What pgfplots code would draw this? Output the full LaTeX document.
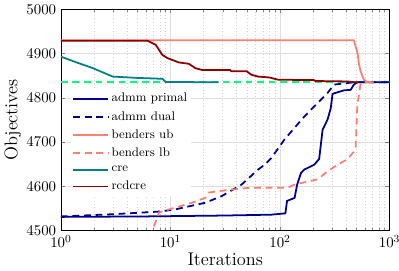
\documentclass[border=0pt]{standalone}
\usepackage{pgfplots}
\pgfplotsset{compat=1.18}
\definecolor{navyc}{RGB}{0,0,139}
\definecolor{salmonc}{RGB}{250,128,114}
\definecolor{tealc}{RGB}{0,128,128}
\definecolor{redc}{RGB}{139,0,0}
\definecolor{greenc}{RGB}{0,255,127}
\begin{document}
\begin{tikzpicture}
\begin{semilogxaxis}[
  name=ax,
  scale only axis,
  width=242pt, height=163pt,
  xmin=1, xmax=1000, ymin=4500, ymax=5000,
  ytick={4500,4600,4700,4800,4900,5000},
  xtick={1,10,100,1000},
  tick align=inside,
  major tick length=3pt, minor tick length=1.8pt,
  grid=both,
  major grid style={gray!25, line width=0.4pt},
  minor grid style={gray!35, dotted, line width=0.4pt},
  tick label style={font=\fontsize{11.3}{13}\selectfont},
  xlabel={Iterations},
  ylabel={Objectives},
  label style={font=\fontsize{13.5}{15}\selectfont},
  ylabel style={yshift=-3pt},
  xlabel style={yshift=3pt},
  legend style={at={(0.03,0.64)}, anchor=north west, draw=none, fill=white, font=\fontsize{9.2}{10.5}\selectfont, row sep=1.5pt, inner sep=1pt},
  legend cell align=left,
  legend image code/.code={\draw[line width=1.3pt,#1] (0cm,0cm) -- (0.9cm,0cm);},
  y tick label style={/pgf/number format/1000 sep={}},
]
\addplot[line width=1.3pt, greenc, dash pattern=on 5pt off 3.5pt, forget plot] coordinates {(1,4835) (1000,4835)};
\addplot[line width=1.3pt, navyc] coordinates {(1,4531) (5.56,4532) (30,4534) (83,4536) (112,4539) (116,4567) (136,4574) (143.5,4604) (156,4631) (167,4638) (206,4649) (228,4662) (245,4728) (272,4751) (291,4777) (302,4809) (384,4817) (442,4818) (473,4830) (508,4835) (1000,4835)};
\addlegendentry{admm primal}
\addplot[line width=1.3pt, navyc, dash pattern=on 5pt off 3.5pt] coordinates {(1,4532) (2.97,4537) (7.9,4543) (11.1,4548) (20.8,4563) (29.4,4578) (44.6,4604) (63.2,4638) (72.6,4649) (83.4,4664) (110,4706) (167,4758) (272,4811) (312,4830) (473,4835) (1000,4835)};
\addlegendentry{admm dual}
\addplot[line width=1.3pt, salmonc] coordinates {(1,4930) (473,4930) (490,4916) (511,4901) (525,4878) (544,4860) (583,4841) (626,4836) (718,4835)};
\addlegendentry{benders ub}
\addplot[line width=1.3pt, salmonc, dash pattern=on 5pt off 3.5pt] coordinates {(6.5,4485) (6.84,4500) (7.87,4541) (9.69,4548) (15.7,4563) (20.8,4574) (22.3,4586) (33.8,4592) (55,4597) (118,4597) (135.5,4604) (221,4616) (272,4634) (335,4649) (412,4661) (490,4683) (508,4781) (544,4833) (568,4835) (718,4835)};
\addlegendentry{benders lb}
\addplot[line width=1.3pt, tealc] coordinates {(1,4893) (1.39,4880) (1.96,4867) (2.97,4848) (5,4845) (8.43,4843) (9.0,4836) (27.5,4835)};
\addlegendentry{cre}
\addplot[line width=1.3pt, redc] coordinates {(1,4929) (6.17,4929) (7.33,4920) (8.43,4897) (9.36,4890) (11.9,4880) (14.7,4877) (16.9,4867) (19.4,4863) (35,4863) (36,4860) (49.6,4860) (55,4852) (63.2,4848) (80,4846) (95.9,4841) (204,4840) (210,4838) (412,4837) (490,4835) (520,4835)};
\addlegendentry{rcdcre}
\end{semilogxaxis}
\pgfresetboundingbox
\path[use as bounding box] (ax.outer south west) rectangle ([xshift=7pt]ax.south east |- ax.outer north east);
\end{tikzpicture}
\end{document}
